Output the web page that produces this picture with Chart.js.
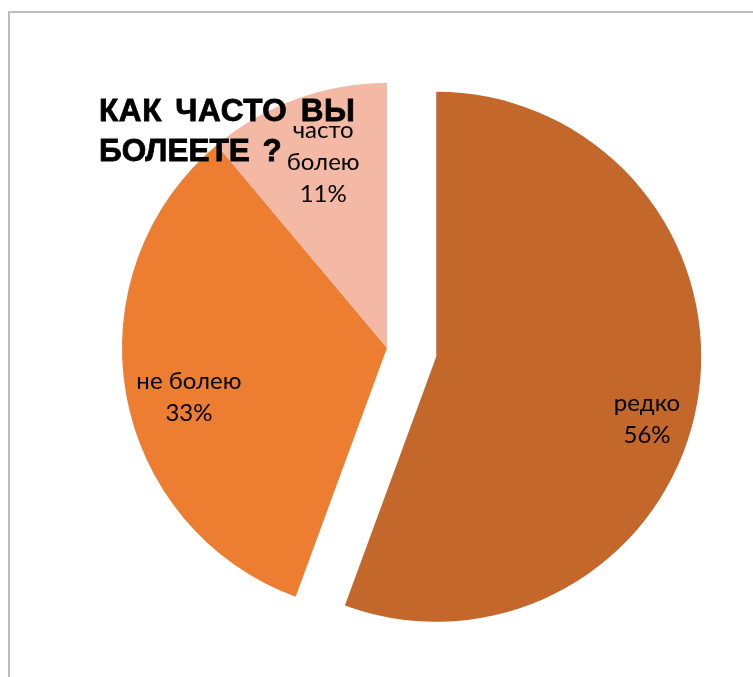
<!DOCTYPE html>
<html lang="ru">
<head>
<meta charset="utf-8">
<title>Как часто вы болеете?</title>
<script src="https://cdn.jsdelivr.net/npm/chart.js@4/dist/chart.umd.min.js"></script>
<style>
    html, body { margin: 0; padding: 0; background: #fff; overflow: hidden; }
    #wrap { position: relative; width: 753px; height: 677px; }
    #frame {
        position: absolute; left: 8px; top: 11px; width: 800px; height: 720px;
        border: 2px solid #BDBDBD; box-sizing: border-box;
    }
    #chart-box { position: absolute; left: 0; top: 0; width: 753px; height: 677px; }
    #title {
        position: absolute; left: 99px; top: 90px; z-index: 2;
        font-family: "Liberation Sans", Arial, sans-serif; font-weight: bold;
        font-size: 31.5px; line-height: 40px; color: #000;
        word-spacing: 4px; -webkit-text-stroke: 0.8px #000;
    }
    #title .l1 { letter-spacing: 0.6px; }
</style>
</head>
<body>
<div id="wrap">
    <div id="frame"></div>
    <div id="chart-box"><canvas id="sick-chart"></canvas></div>
    <div id="title"><span class="l1">КАК ЧАСТО ВЫ</span><br>БОЛЕЕТЕ ?</div>
</div>
<script>
const categories = ['редко', 'не болею', 'часто болею'];
const labelLines = [['редко'], ['не болею'], ['часто', 'болею']];
const shares = [55.6, 33.3, 11.1];
const sliceColors = ['#C4672A', '#ED7D31', '#F4B9A4'];

// pull a slice out along its middle angle without changing its radius
// (chart.js' own offset option also trims and enlarges the arc)
const explodePlugin = {
    id: 'explode',
    afterDatasetUpdate(chart, args, opts) {
        args.meta.data.forEach((arc, i) => {
            const d = opts.amount[i] || 0;
            if (!d) return;
            const mid = (arc.startAngle + arc.endAngle) / 2;
            arc.x += Math.cos(mid) * d;
            arc.y += Math.sin(mid) * d;
        });
    }
};

// labels sit inside each slice, nudged like excel's "best fit"
const labelPlugin = {
    id: 'sliceLabels',
    afterDatasetsDraw(chart, args, opts) {
        const ctx = chart.ctx;
        const meta = chart.getDatasetMeta(0);
        const total = shares.reduce((a, b) => a + b, 0);
        ctx.save();
        ctx.font = opts.font;
        ctx.fillStyle = opts.color;
        ctx.textAlign = 'center';
        ctx.textBaseline = 'middle';
        meta.data.forEach((arc, i) => {
            const mid = (arc.startAngle + arc.endAngle) / 2;
            const place = opts.place[i];
            const ang = mid + place.turn * Math.PI / 180;
            const cx = arc.x + Math.cos(ang) * arc.outerRadius * place.ratio;
            const cy = arc.y + Math.sin(ang) * arc.outerRadius * place.ratio;
            const lines = labelLines[i].concat([Math.round(shares[i] / total * 100) + '%']);
            const lh = opts.lineHeight;
            lines.forEach((t, k) => {
                ctx.fillText(t, cx, cy + (k - (lines.length - 1) / 2) * lh);
            });
        });
        ctx.restore();
    }
};

new Chart(document.getElementById('sick-chart'), {
    type: 'pie',
    data: {
        labels: categories,
        datasets: [{
            data: shares,
            backgroundColor: sliceColors,
            borderWidth: 0
        }]
    },
    options: {
        responsive: true,
        maintainAspectRatio: false,
        animation: false,
        radius: 265,
        layout: { padding: { left: 21, right: 0, top: 19, bottom: 0 } },
        plugins: {
            legend: { display: false },
            tooltip: { enabled: false },
            explode: { amount: [50, 0, 0] },
            sliceLabels: {
                font: '24px "Lato", "Noto Sans", sans-serif',
                color: '#000',
                lineHeight: 32,
                place: [
                    { ratio: 0.83, turn: 6.5 },
                    { ratio: 0.77, turn: -4 },
                    { ratio: 0.74, turn: 1 }
                ]
            }
        }
    },
    plugins: [explodePlugin, labelPlugin]
});
</script>
</body>
</html>
